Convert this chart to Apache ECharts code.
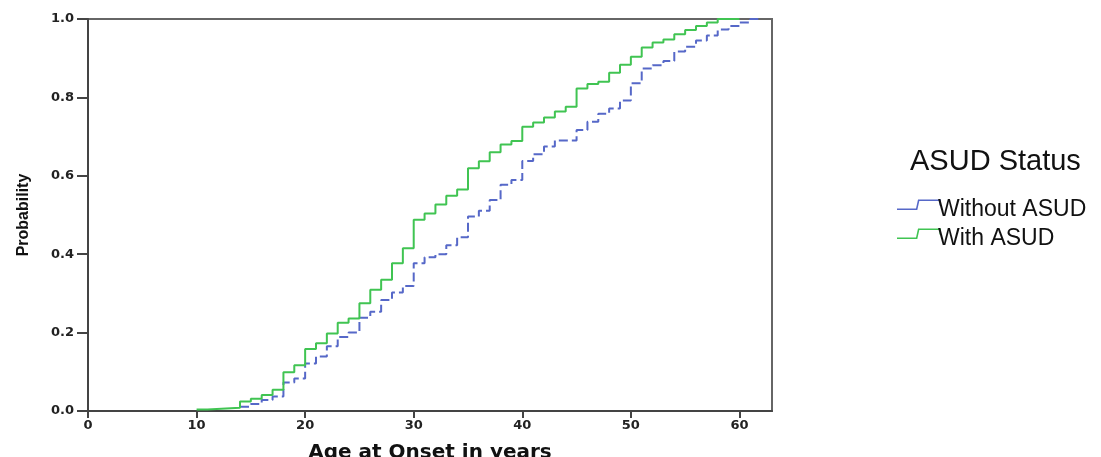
<!DOCTYPE html>
<html>
<head>
<meta charset="utf-8">
<script src="https://cdn.jsdelivr.net/npm/echarts@6/dist/echarts.min.js"></script>
<style>
  html, body { margin: 0; padding: 0; background: #fff; }
  #chart { width: 1101px; height: 457px; }
</style>
</head>
<body>
<div id="chart"></div>
<script>
// step points: age where the cumulative probability changes, and the new value
var withoutAges = [14, 15, 16, 17, 18, 19, 20, 21, 22, 23, 24, 25, 26, 27, 28, 29, 30, 31, 32, 33, 34, 35, 36, 37, 38, 39, 40, 41, 42, 43, 45, 46, 47, 48, 49, 50, 51, 52, 53, 54, 55, 56, 57, 58, 59, 60, 61, 62];
var withoutProb = [0.011, 0.018, 0.028, 0.037, 0.073, 0.083, 0.121, 0.139, 0.165, 0.189, 0.200, 0.238, 0.253, 0.283, 0.302, 0.319, 0.377, 0.392, 0.400, 0.423, 0.443, 0.496, 0.511, 0.538, 0.577, 0.589, 0.638, 0.655, 0.675, 0.690, 0.717, 0.738, 0.758, 0.772, 0.792, 0.836, 0.874, 0.882, 0.893, 0.917, 0.929, 0.945, 0.958, 0.973, 0.982, 0.991, 1.0, 1.0];

var withAges = [10, 11, 14, 15, 16, 17, 18, 19, 20, 21, 22, 23, 24, 25, 26, 27, 28, 29, 30, 31, 32, 33, 34, 35, 36, 37, 38, 39, 40, 41, 42, 43, 44, 45, 46, 47, 48, 49, 50, 51, 52, 53, 54, 55, 56, 57, 58, 60];
var withProb = [0.004, 0.008, 0.024, 0.031, 0.041, 0.054, 0.099, 0.117, 0.158, 0.173, 0.198, 0.225, 0.236, 0.275, 0.309, 0.335, 0.377, 0.415, 0.488, 0.504, 0.527, 0.549, 0.565, 0.619, 0.637, 0.660, 0.680, 0.689, 0.725, 0.736, 0.749, 0.764, 0.776, 0.823, 0.834, 0.840, 0.863, 0.883, 0.904, 0.927, 0.940, 0.948, 0.961, 0.972, 0.982, 0.991, 1.0, 1.0];

var seriesNames = ['Without ASUD', 'With ASUD'];
var xTicks = [0, 10, 20, 30, 40, 50, 60];

function pairs(xs, ys) {
    var out = [];
    for (var i = 0; i < xs.length; i++) {
        out.push([xs[i], ys[i]]);
    }
    return out;
}

var blue = '#5668c8';
var green = '#40c452';
// thin step shape used as legend icon; the tiny last piece only stretches the
// box downwards so the visible step sits in the upper half (near cap height)
var stepIcon = 'path://M0 9 L19 9 L21 0 L44 0 L44 6 L42.5 6 L42.5 1.6 L22.3 1.6 L20.3 10.6 L0 10.6 Z M0 19.98 L0.02 19.98 L0 20 Z';

var mychart = echarts.init(document.getElementById('chart'));
var option = {
    animation: false,
    title: {
        text: 'ASUD Status',
        left: 905,
        top: 142,
        textStyle: {
            fontFamily: 'Liberation Sans',
            fontWeight: 'normal',
            fontSize: 29,
            color: '#111'
        }
    },
    legend: {
        data: seriesNames,
        orient: 'vertical',
        left: 892,
        top: 193,
        itemWidth: 44,
        itemHeight: 20,
        itemGap: 6,
        icon: stepIcon,
        textStyle: {
            fontFamily: 'Liberation Sans',
            fontSize: 23,
            color: '#111',
            padding: [0, 0, 0, -8]
        }
    },
    grid: {
        left: 88,
        right: 329,
        top: 19,
        bottom: 46,
        outerBoundsMode: 'none',
        show: true,
        borderColor: '#666',
        borderWidth: 2
    },
    xAxis: {
        type: 'value',
        min: 0,
        max: 63,
        interval: 10,
        name: 'Age at Onset in years',
        nameLocation: 'middle',
        nameGap: 32,
        nameTextStyle: {
            fontFamily: 'DejaVu Sans',
            fontWeight: 'bold',
            fontSize: 20,
            color: '#111'
        },
        axisLine: {lineStyle: {color: '#444', width: 2}},
        axisTick: {length: 7, lineStyle: {color: '#444', width: 2}},
        axisLabel: {
            margin: 8,
            showMaxLabel: false,
            fontFamily: 'DejaVu Sans',
            fontWeight: 'bold',
            fontSize: 13,
            color: '#222',
            formatter: function (v) {
                return xTicks.indexOf(v) >= 0 ? String(v) : '';
            }
        },
        splitLine: {show: false}
    },
    yAxis: {
        type: 'value',
        min: 0,
        max: 1,
        interval: 0.2,
        name: 'Probability',
        nameLocation: 'middle',
        nameRotate: 90,
        nameGap: 56,
        nameTextStyle: {
            fontFamily: 'Liberation Sans',
            fontWeight: 'bold',
            fontSize: 16,
            color: '#111'
        },
        axisLine: {show: true, lineStyle: {color: '#444', width: 2}},
        axisTick: {show: true, length: 11, lineStyle: {color: '#444', width: 2}},
        axisLabel: {
            margin: 14,
            fontFamily: 'DejaVu Sans',
            fontWeight: 'bold',
            fontSize: 13,
            color: '#222',
            formatter: function (v) { return v.toFixed(1); }
        },
        splitLine: {show: false}
    },
    series: [
        {
            name: seriesNames[0],
            type: 'line',
            step: 'end',
            symbol: 'none',
            color: blue,
            lineStyle: {color: blue, width: 2, type: [9, 4]},
            data: pairs(withoutAges, withoutProb)
        },
        {
            name: seriesNames[1],
            type: 'line',
            step: 'end',
            symbol: 'none',
            color: green,
            lineStyle: {color: green, width: 2},
            data: pairs(withAges, withProb)
        }
    ]
};
mychart.setOption(option);
</script>
</body>
</html>
